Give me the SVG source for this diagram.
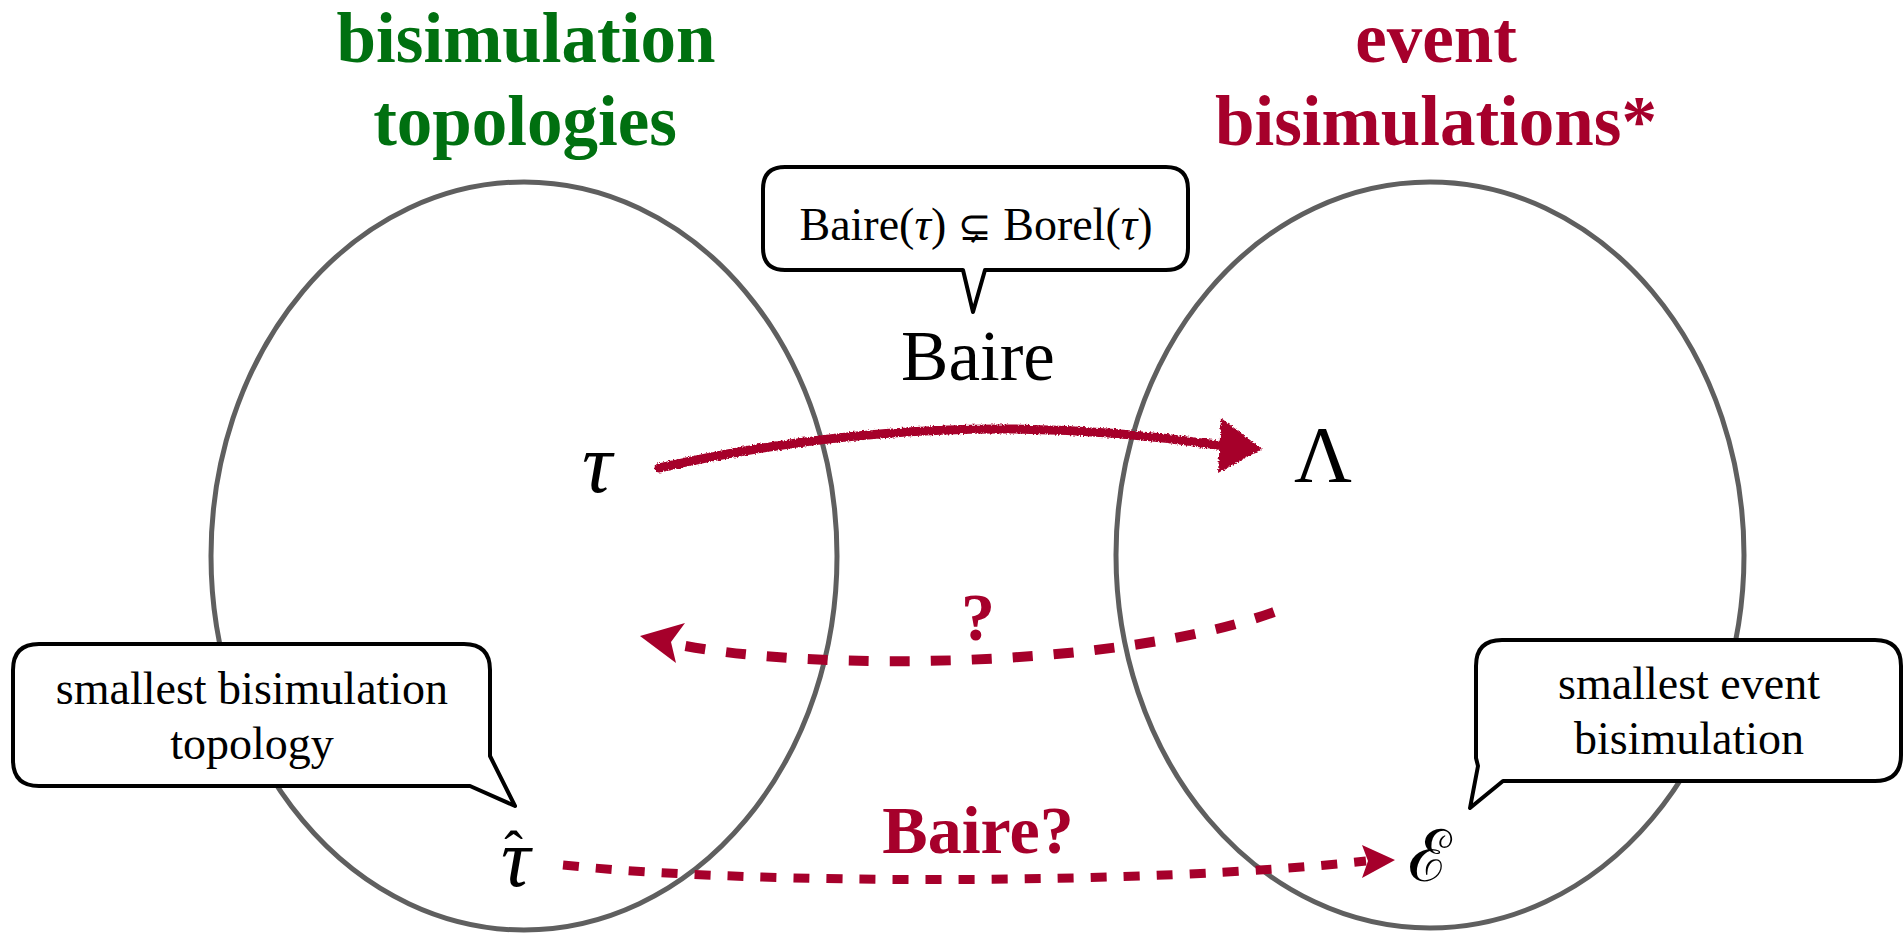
<svg xmlns="http://www.w3.org/2000/svg" width="1903" height="936" viewBox="0 0 1903 936">
<style>
.ell{fill:none;stroke:#5f5f5f;stroke-width:5}
.title{font-family:"Liberation Serif",serif;font-weight:bold;font-size:71px;text-anchor:middle}
.green{fill:#007010}
.red{fill:#a6002b}
.bub{fill:#fff;stroke:#000;stroke-width:4;stroke-linejoin:round}
.t{font-family:"Liberation Serif","DejaVu Serif",serif;fill:#000;text-anchor:middle}
.math{font-family:"Liberation Serif","DejaVu Serif",serif;font-style:italic;fill:#000}
.dash{fill:none;stroke:#a6002b}
.head{fill:#a6002b}
.lbl{font-family:"Liberation Serif",serif;font-weight:bold;fill:#a6002b;text-anchor:middle}
</style>
<defs>
<filter id="rough" x="-5%" y="-50%" width="110%" height="200%">
<feTurbulence type="fractalNoise" baseFrequency="0.6" numOctaves="2" seed="3" result="n"/>
<feDisplacementMap in="SourceGraphic" in2="n" scale="4" xChannelSelector="R" yChannelSelector="G"/>
</filter>
</defs>
<rect width="1903" height="936" fill="#fff"/>

<g id="left-set">
<ellipse class="ell" cx="524" cy="556" rx="313" ry="374"/>
<text class="title green" x="526" y="62">bisimulation</text>
<text class="title green" x="525" y="145">topologies</text>
</g>
<g id="right-set">
<ellipse class="ell" cx="1430" cy="555" rx="314" ry="373"/>
<text class="title red" x="1436" y="62">event</text>
<text class="title red" x="1436" y="145">bisimulations*</text>
</g>

<g id="connectors">
<g id="baire-arrow" filter="url(#rough)">
<path d="M659,468 Q944,403 1225,446" fill="none" stroke="#a6002b" stroke-width="9" stroke-linecap="round"/>
<polygon points="1221,418 1262,449 1218,473" fill="#a6002b"/>
</g>
<g id="question-arrow">
<path class="dash" d="M1274,612 C1120,668 820,672 680,645" stroke-width="10" stroke-dasharray="20 21"/>
<polygon class="head" points="640,636 685,623 671,642 676,663"/>
</g>
<g id="baire-q-arrow">
<path class="dash" d="M563,865 C750,885 1150,885 1366,861" stroke-width="9" stroke-dasharray="16 17"/>
<polygon class="head" points="1395,860 1362,845 1368,861 1362,878"/>
</g>
</g>

<g id="tau">
<text class="math" x="582" y="492" font-size="84">τ</text>
</g>
<g id="lambda">
<text class="t" x="1323" y="482" font-size="80">Λ</text>
</g>
<g id="tau-hat">
<text class="math" x="501" y="886" font-size="82">τ<tspan font-style="normal" font-size="56" dx="-26" dy="-16">ˆ</tspan></text>
</g>
<g id="script-e">
<text x="1408" y="881" font-family="'DejaVu Serif','Noto Sans',serif" font-size="72" fill="#000">ℰ</text>
</g>

<g id="baire-label">
<text class="t" x="978" y="380" font-size="71">Baire</text>
</g>
<g id="question-label">
<text class="lbl" x="978" y="640" font-size="68">?</text>
</g>
<g id="baire-q-label">
<text class="lbl" x="978" y="853" font-size="68">Baire?</text>
</g>

<g id="bubble-top">
<path class="bub" d="M785,167 H1166 Q1188,167 1188,189 V248 Q1188,270 1166,270 H985 L973,312 L963,270 H785 Q763,270 763,248 V189 Q763,167 785,167 Z"/>
<text class="t" x="976" y="240" font-size="46">Baire(<tspan font-style="italic">τ</tspan>) <tspan font-family="'DejaVu Serif',serif" font-size="40">⊊</tspan> Borel(<tspan font-style="italic">τ</tspan>)</text>
</g>
<g id="bubble-left">
<path class="bub" d="M39,644 H464 Q490,644 490,670 V756 L515,806 L470,786 H39 Q13,786 13,760 V670 Q13,644 39,644 Z"/>
<text class="t" x="252" y="704" font-size="46">smallest bisimulation</text>
<text class="t" x="252" y="759" font-size="46">topology</text>
</g>
<g id="bubble-right">
<path class="bub" d="M1502,640 H1875 Q1901,640 1901,666 V755 Q1901,781 1875,781 H1503 L1470,808 L1478,766 L1476,758 V666 Q1476,640 1502,640 Z"/>
<text class="t" x="1689" y="699" font-size="46">smallest event</text>
<text class="t" x="1689" y="754" font-size="46">bisimulation</text>
</g>
</svg>
